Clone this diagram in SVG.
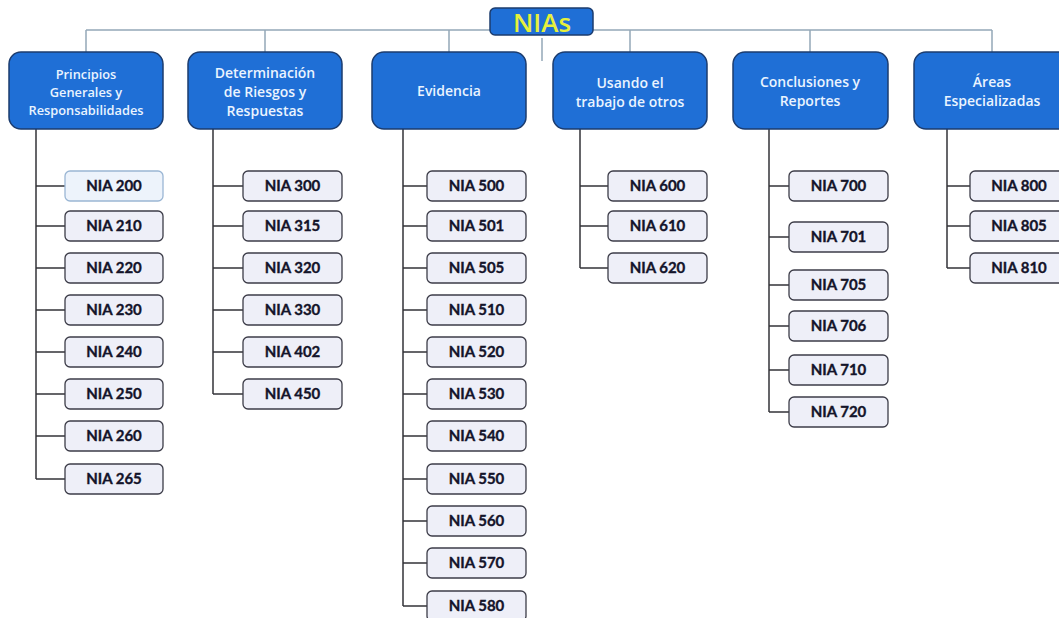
<svg xmlns="http://www.w3.org/2000/svg" width="1059" height="618" viewBox="0 0 1059 618">
<style>
.cat{fill:#1f6fd6;stroke:#1c3c6e;stroke-width:1.5}
.ct{fill:#eaf4ff;font-family:"Open Sans","Liberation Sans",sans-serif;font-size:14px;font-weight:600;text-anchor:middle}
.ct1{font-size:12.8px}
.leaf{fill:#eeeff8;stroke:#3c3c48;stroke-width:1.3}
.lt{fill:#14142a;stroke:#14142a;stroke-width:0.35;font-family:Lato,"Liberation Sans",sans-serif;font-weight:bold;font-size:15px;text-anchor:middle}
.top{stroke:#94a8b8;stroke-width:1.5;fill:none}
.br{stroke:#333338;stroke-width:1.5;fill:none}
</style>
<rect width="1059" height="618" fill="#ffffff"/>
<g id="connectors">
<path class="top" d="M86 30H992M86 30V52M265 30V52M449 30V52M630 30V52M810 30V52M992 30V52M542 38V61"/>
<path class="br" d="M36 129V479M36 186H65M36 226H65M36 268H65M36 310H65M36 352H65M36 394H65M36 436H65M36 479H65"/>
<path class="br" d="M213 129V394M213 186H243M213 226H243M213 268H243M213 310H243M213 352H243M213 394H243"/>
<path class="br" d="M403 129V606M403 186H427M403 226H427M403 268H427M403 310H427M403 352H427M403 394H427M403 436H427M403 479H427M403 521H427M403 563H427M403 606H427"/>
<path class="br" d="M580 129V268M580 186H608M580 226H608M580 268H608"/>
<path class="br" d="M769 129V412M769 186H789M769 237H789M769 285H789M769 326H789M769 370H789M769 412H789"/>
<path class="br" d="M947 129V268M947 186H970M947 226H970M947 268H970"/>
</g>
<g id="root">
<rect x="490" y="8" width="103" height="27" rx="5" class="cat"/>
<text x="542" y="32" font-family="'Open Sans','Liberation Sans',sans-serif" font-size="26" font-weight="600" fill="#e6f03c" text-anchor="middle">NIAs</text>
</g>
<g id="cat1"><rect x="9" y="52" width="154" height="77" rx="12" class="cat"/>
<text class="ct ct1"><tspan x="86" y="79">Principios</tspan><tspan x="86" y="97">Generales y</tspan><tspan x="86" y="115">Responsabilidades</tspan></text></g>
<g id="cat2"><rect x="188" y="52" width="154" height="77" rx="12" class="cat"/>
<text class="ct"><tspan x="265" y="78">Determinación</tspan><tspan x="265" y="97">de Riesgos y</tspan><tspan x="265" y="116">Respuestas</tspan></text></g>
<g id="cat3"><rect x="372" y="52" width="154" height="77" rx="12" class="cat"/>
<text class="ct" x="449" y="96">Evidencia</text></g>
<g id="cat4"><rect x="553" y="52" width="154" height="77" rx="12" class="cat"/>
<text class="ct"><tspan x="630" y="88">Usando el</tspan><tspan x="630" y="107">trabajo de otros</tspan></text></g>
<g id="cat5"><rect x="733" y="52" width="155" height="77" rx="12" class="cat"/>
<text class="ct"><tspan x="810" y="87">Conclusiones y</tspan><tspan x="810" y="106">Reportes</tspan></text></g>
<g id="cat6"><rect x="914" y="52" width="156" height="77" rx="12" class="cat"/>
<text class="ct"><tspan x="992" y="87">Áreas</tspan><tspan x="992" y="106">Especializadas</tspan></text></g>
<g id="nia200"><rect x="65" y="171" width="98" height="30" rx="5" fill="#edf3fb" stroke="#9ab6d4" stroke-width="1.3"/><text class="lt" x="114" y="191">NIA 200</text></g>
<g id="nia210"><rect x="65" y="211" width="98" height="30" rx="5" class="leaf"/><text class="lt" x="114" y="231">NIA 210</text></g>
<g id="nia220"><rect x="65" y="253" width="98" height="30" rx="5" class="leaf"/><text class="lt" x="114" y="273">NIA 220</text></g>
<g id="nia230"><rect x="65" y="295" width="98" height="30" rx="5" class="leaf"/><text class="lt" x="114" y="315">NIA 230</text></g>
<g id="nia240"><rect x="65" y="337" width="98" height="30" rx="5" class="leaf"/><text class="lt" x="114" y="357">NIA 240</text></g>
<g id="nia250"><rect x="65" y="379" width="98" height="30" rx="5" class="leaf"/><text class="lt" x="114" y="399">NIA 250</text></g>
<g id="nia260"><rect x="65" y="421" width="98" height="30" rx="5" class="leaf"/><text class="lt" x="114" y="441">NIA 260</text></g>
<g id="nia265"><rect x="65" y="464" width="98" height="30" rx="5" class="leaf"/><text class="lt" x="114" y="484">NIA 265</text></g>
<g id="nia300"><rect x="243" y="171" width="99" height="30" rx="5" class="leaf"/><text class="lt" x="292.5" y="191">NIA 300</text></g>
<g id="nia315"><rect x="243" y="211" width="99" height="30" rx="5" class="leaf"/><text class="lt" x="292.5" y="231">NIA 315</text></g>
<g id="nia320"><rect x="243" y="253" width="99" height="30" rx="5" class="leaf"/><text class="lt" x="292.5" y="273">NIA 320</text></g>
<g id="nia330"><rect x="243" y="295" width="99" height="30" rx="5" class="leaf"/><text class="lt" x="292.5" y="315">NIA 330</text></g>
<g id="nia402"><rect x="243" y="337" width="99" height="30" rx="5" class="leaf"/><text class="lt" x="292.5" y="357">NIA 402</text></g>
<g id="nia450"><rect x="243" y="379" width="99" height="30" rx="5" class="leaf"/><text class="lt" x="292.5" y="399">NIA 450</text></g>
<g id="nia500"><rect x="427" y="171" width="99" height="30" rx="5" class="leaf"/><text class="lt" x="476.5" y="191">NIA 500</text></g>
<g id="nia501"><rect x="427" y="211" width="99" height="30" rx="5" class="leaf"/><text class="lt" x="476.5" y="231">NIA 501</text></g>
<g id="nia505"><rect x="427" y="253" width="99" height="30" rx="5" class="leaf"/><text class="lt" x="476.5" y="273">NIA 505</text></g>
<g id="nia510"><rect x="427" y="295" width="99" height="30" rx="5" class="leaf"/><text class="lt" x="476.5" y="315">NIA 510</text></g>
<g id="nia520"><rect x="427" y="337" width="99" height="30" rx="5" class="leaf"/><text class="lt" x="476.5" y="357">NIA 520</text></g>
<g id="nia530"><rect x="427" y="379" width="99" height="30" rx="5" class="leaf"/><text class="lt" x="476.5" y="399">NIA 530</text></g>
<g id="nia540"><rect x="427" y="421" width="99" height="30" rx="5" class="leaf"/><text class="lt" x="476.5" y="441">NIA 540</text></g>
<g id="nia550"><rect x="427" y="464" width="99" height="30" rx="5" class="leaf"/><text class="lt" x="476.5" y="484">NIA 550</text></g>
<g id="nia560"><rect x="427" y="506" width="99" height="30" rx="5" class="leaf"/><text class="lt" x="476.5" y="526">NIA 560</text></g>
<g id="nia570"><rect x="427" y="548" width="99" height="30" rx="5" class="leaf"/><text class="lt" x="476.5" y="568">NIA 570</text></g>
<g id="nia580"><rect x="427" y="591" width="99" height="30" rx="5" class="leaf"/><text class="lt" x="476.5" y="611">NIA 580</text></g>
<g id="nia600"><rect x="608" y="171" width="99" height="30" rx="5" class="leaf"/><text class="lt" x="657.5" y="191">NIA 600</text></g>
<g id="nia610"><rect x="608" y="211" width="99" height="30" rx="5" class="leaf"/><text class="lt" x="657.5" y="231">NIA 610</text></g>
<g id="nia620"><rect x="608" y="253" width="99" height="30" rx="5" class="leaf"/><text class="lt" x="657.5" y="273">NIA 620</text></g>
<g id="nia700"><rect x="789" y="171" width="99" height="30" rx="5" class="leaf"/><text class="lt" x="838.5" y="191">NIA 700</text></g>
<g id="nia701"><rect x="789" y="222" width="99" height="30" rx="5" class="leaf"/><text class="lt" x="838.5" y="242">NIA 701</text></g>
<g id="nia705"><rect x="789" y="270" width="99" height="30" rx="5" class="leaf"/><text class="lt" x="838.5" y="290">NIA 705</text></g>
<g id="nia706"><rect x="789" y="311" width="99" height="30" rx="5" class="leaf"/><text class="lt" x="838.5" y="331">NIA 706</text></g>
<g id="nia710"><rect x="789" y="355" width="99" height="30" rx="5" class="leaf"/><text class="lt" x="838.5" y="375">NIA 710</text></g>
<g id="nia720"><rect x="789" y="397" width="99" height="30" rx="5" class="leaf"/><text class="lt" x="838.5" y="417">NIA 720</text></g>
<g id="nia800"><rect x="970" y="171" width="99" height="30" rx="5" class="leaf"/><text class="lt" x="1019" y="191">NIA 800</text></g>
<g id="nia805"><rect x="970" y="211" width="99" height="30" rx="5" class="leaf"/><text class="lt" x="1019" y="231">NIA 805</text></g>
<g id="nia810"><rect x="970" y="253" width="99" height="30" rx="5" class="leaf"/><text class="lt" x="1019" y="273">NIA 810</text></g>
</svg>
